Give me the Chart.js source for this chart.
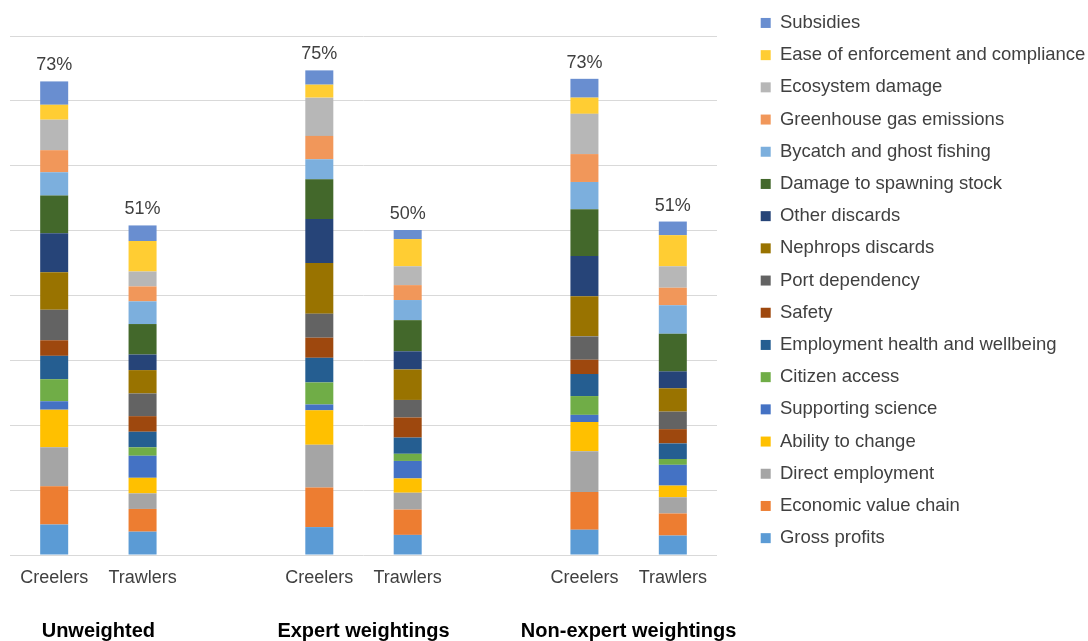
<!DOCTYPE html>
<html>
<head>
<meta charset="utf-8">
<title>Creelers vs trawlers scores</title>
<script src="https://cdn.jsdelivr.net/npm/chart.js@4.4.1/dist/chart.umd.min.js"></script>
<style>
    body { margin: 0; background: #ffffff; }
    #wrap { width: 1088px; height: 641px; position: relative; }
</style>
</head>
<body>
<div id="wrap"><canvas id="scoreChart" aria-label="stacked bar chart" role="img"></canvas></div>
<script>
// x slots: blank slots keep the three groups apart
const categories = ['Creelers', 'Trawlers', '', 'Creelers', 'Trawlers', '', 'Creelers', 'Trawlers'];
const groups = ['Unweighted', 'Expert weightings', 'Non-expert weightings'];

// criteria, bottom of the stack to the top
const criteria = [
    'Gross profits',
    'Economic value chain',
    'Direct employment',
    'Ability to change',
    'Supporting science',
    'Citizen access',
    'Employment health and wellbeing',
    'Safety',
    'Port dependency',
    'Nephrops discards',
    'Other discards',
    'Damage to spawning stock',
    'Bycatch and ghost fishing',
    'Greenhouse gas emissions',
    'Ecosystem damage',
    'Ease of enforcement and compliance',
    'Subsidies',
];

const colors = [
    '#5B9BD5', '#ED7D31', '#A5A5A5', '#FFC000', '#4472C4', '#70AD47',
    '#255E91', '#9E480E', '#636363', '#997300', '#264478', '#43682B',
    '#7CAFDD', '#F1975A', '#B7B7B7', '#FFCD33', '#698ED0',
];

// score (%) per criterion, same order as criteria
const unweightedCreelers = [4.7, 5.9, 6.0, 5.8, 1.3, 3.4, 3.6, 2.4, 4.7, 5.8, 6.0, 5.8, 3.6, 3.4, 4.7, 2.3, 3.6];
const unweightedTrawlers = [3.6, 3.5, 2.4, 2.4, 3.4, 1.3, 2.4, 2.4, 3.5, 3.6, 2.4, 4.7, 3.5, 2.3, 2.3, 4.7, 2.4];
const expertCreelers = [4.3, 6.1, 6.6, 5.3, 0.9, 3.4, 3.8, 3.1, 3.7, 7.8, 6.8, 6.1, 3.1, 3.6, 5.9, 2.0, 2.2];
const expertTrawlers = [3.1, 3.9, 2.6, 2.2, 2.7, 1.1, 2.5, 3.1, 2.7, 4.7, 2.8, 4.8, 3.1, 2.3, 2.9, 4.2, 1.4];
const nonExpertCreelers = [3.9, 5.8, 6.3, 4.5, 1.1, 2.9, 3.4, 2.2, 3.6, 6.2, 6.2, 7.2, 4.2, 4.3, 6.2, 2.5, 2.9];
const nonExpertTrawlers = [3.0, 3.4, 2.5, 1.8, 3.2, 0.9, 2.4, 2.2, 2.7, 3.6, 2.6, 5.8, 4.4, 2.7, 3.3, 4.8, 2.1];

const bars = [
    unweightedCreelers, unweightedTrawlers, null,
    expertCreelers, expertTrawlers, null,
    nonExpertCreelers, nonExpertTrawlers,
];

const FONT = '"Liberation Sans", Arial, sans-serif';
Chart.defaults.font.family = FONT;
Chart.defaults.color = '#404040';

// total on top of each stack
const totalLabels = {
    id: 'totalLabels',
    afterDatasetsDraw(chart) {
        const { ctx, scales: { x, y } } = chart;
        ctx.save();
        ctx.font = '18px ' + FONT;
        ctx.fillStyle = '#404040';
        ctx.textAlign = 'center';
        ctx.textBaseline = 'alphabetic';
        bars.forEach((bar, i) => {
            if (!bar) return;
            const total = bar.reduce((a, b) => a + b, 0);
            ctx.fillText(Math.round(total) + '%', x.getPixelForValue(i), y.getPixelForValue(total) - 11);
        });
        ctx.restore();
    },
};

// bold group names under each pair of bars
const groupLabels = {
    id: 'groupLabels',
    afterDraw(chart) {
        const { ctx, chartArea, scales: { x } } = chart;
        ctx.save();
        ctx.font = 'bold 20px ' + FONT;
        ctx.fillStyle = '#000000';
        ctx.textAlign = 'center';
        ctx.textBaseline = 'alphabetic';
        groups.forEach((name, k) => {
            const mid = (x.getPixelForValue(3 * k) + x.getPixelForValue(3 * k + 1)) / 2;
            ctx.fillText(name, mid, chartArea.bottom + 82);
        });
        ctx.restore();
    },
};

const datasets = criteria.map((name, i) => ({
    label: name,
    data: bars.map((bar) => (bar ? bar[i] : null)),
    backgroundColor: colors[i],
    borderWidth: 0,
    barPercentage: 0.317,
    categoryPercentage: 1,
}));

new Chart(document.getElementById('scoreChart'), {
    type: 'bar',
    data: { labels: categories, datasets: datasets },
    plugins: [totalLabels, groupLabels],
    options: {
        responsive: true,
        maintainAspectRatio: false,
        animation: false,
        layout: { padding: 0 },
        scales: {
            x: {
                stacked: true,
                grid: { display: false, drawTicks: false },
                border: { display: false },
                ticks: { color: '#404040', font: { size: 18 }, padding: 12 },
                afterFit: (scale) => { scale.height = 86; },
            },
            y: {
                stacked: true,
                min: 0,
                max: 80,
                ticks: { display: false, stepSize: 10 },
                grid: { color: '#d9d9d9', drawTicks: false },
                border: { display: false },
                afterFit: (scale) => { scale.width = 10; },
            },
            gap: {
                type: 'linear',
                position: 'right',
                grid: { display: false, drawTicks: false },
                ticks: { display: false },
                border: { display: false },
                afterFit: (scale) => { scale.width = 30; },
            },
        },
        plugins: {
            title: {
                display: true,
                text: ' ',
                fullSize: false,
                font: { size: 20 },
                padding: { top: 12, bottom: 0 },
            },
            legend: {
                position: 'right',
                align: 'start',
                reverse: true,
                maxWidth: 341,
                labels: {
                    boxWidth: 10,
                    boxHeight: 10,
                    padding: 13.7,
                    color: '#404040',
                    font: { size: 18.5 },
                },
            },
            tooltip: { enabled: false },
        },
    },
});
</script>
</body>
</html>
